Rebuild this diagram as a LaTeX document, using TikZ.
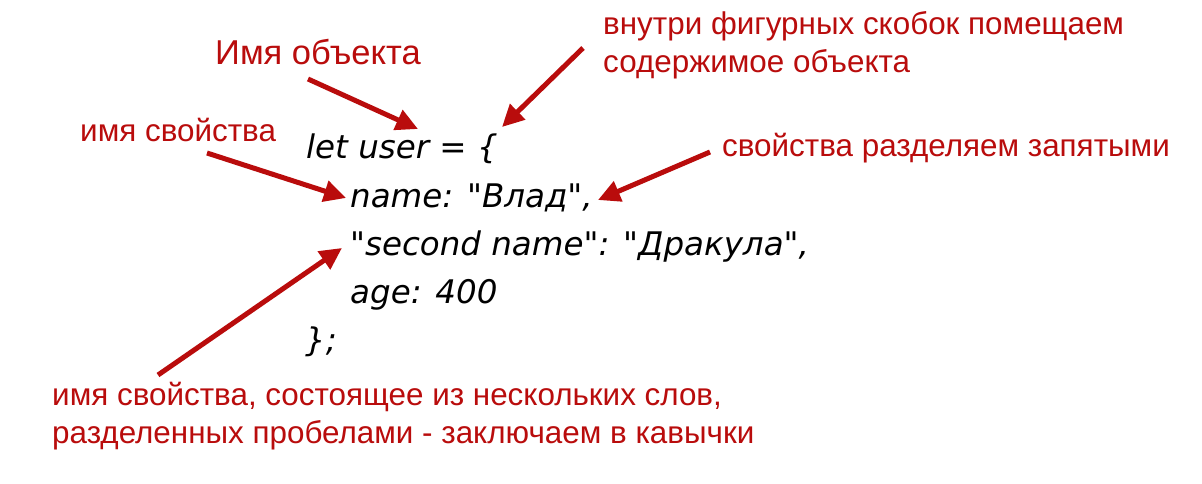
\documentclass[tikz,border=0pt]{standalone}
\usepackage{fontspec}
\setmainfont{Liberation Sans}
\newfontfamily\codefont{DejaVu Sans}
\usetikzlibrary{arrows.meta, positioning}
\definecolor{miRojo}{RGB}{185, 12, 12}

\begin{document}
\begin{tikzpicture}[
  x=1pt, y=-1pt,
  note/.style={text=miRojo, anchor=base west, inner sep=0pt, align=left,
               font=\fontsize{31.4}{38}\selectfont},
  codeline/.style={anchor=base west, inner sep=0pt,
                   font=\codefont\itshape\fontsize{32.5}{48}\selectfont},
  arrow/.style={-{Triangle[length=22pt, width=21pt]}, line width=5pt, miRojo}
]
\useasboundingbox[fill=white] (0,0) rectangle (1202,484);

% code
\node[codeline] (let)    at (306,159) {let user = \{};
\node[codeline] (name)   at (350,207) {name: "Влад",};
\node[codeline] (second) at (350,255) {"second name": "Дракула",};
\node[codeline] (age)    at (350,303) {age: 400};
\node[codeline] (close)  at (305,351) {\};};

% notes (base = last line)
\node[note, font=\fontsize{34.5}{40}\selectfont] (objname) at (215,65) {Имя объекта};
\node[note] (inside)  at (603,73) {внутри фигурных скобок помещаем\\содержимое объекта};
\node[note] (propname) at (80,142) {имя свойства};
\node[note] (commas)  at (722,157) {свойства разделяем запятыми};
\node[note] (quoted)  at (52,443) {имя свойства, состоящее из нескольких слов,\\разделенных пробелами - заключаем в кавычки};

% arrow ends
\coordinate (t1) at (308,79);   \coordinate (h1) at (418,129);
\coordinate (t2) at (583,48);   \coordinate (h2) at (502,127);
\coordinate (t3) at (207,153);  \coordinate (h3) at (346,198);
\coordinate (t4) at (710,152);  \coordinate (h4) at (598,200);
\coordinate (t5) at (158,375);  \coordinate (h5) at (342,248);

\draw[arrow] (t1) -- (h1);
\draw[arrow] (t2) -- (h2);
\draw[arrow] (t3) -- (h3);
\draw[arrow] (t4) -- (h4);
\draw[arrow] (t5) -- (h5);
\end{tikzpicture}
\end{document}
